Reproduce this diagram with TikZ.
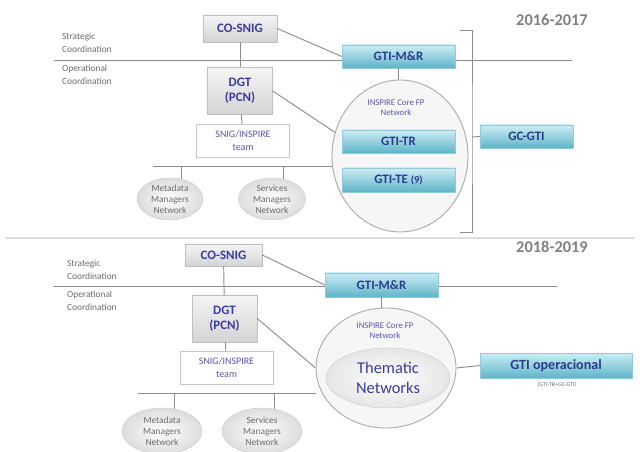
\documentclass[tikz,border=0pt]{standalone}
\usepackage{fontspec}
\setmainfont{Carlito}
\usetikzlibrary{shapes.geometric}

\definecolor{boxtext}{HTML}{3B3B9E}
\definecolor{gtitext}{HTML}{283C8C}
\definecolor{tealtop}{HTML}{CDEDF4}
\definecolor{tealbot}{HTML}{5FB4C9}
\definecolor{linegray}{HTML}{8C8C8C}
\definecolor{labelgray}{HTML}{6A6A6A}

\begin{document}
\begin{tikzpicture}[x=0.03cm, y=-0.03cm,
  sniggbox/.style={rectangle, draw=gray!50, top color=gray!8, bottom color=gray!34, text=boxtext, font=\bfseries\fontsize{11}{13}\selectfont, align=center, inner sep=1pt},
  gtibox/.style={rectangle, draw=tealbot!70, top color=tealtop, bottom color=tealbot, text=gtitext, font=\bfseries\fontsize{11}{13}\selectfont, inner sep=1pt},
  teambox/.style={rectangle, draw=gray!45, fill=white, text=boxtext!85, font=\fontsize{8.5}{11}\selectfont, align=center, minimum width=2.79cm, minimum height=0.99cm},
  netell/.style={ellipse, draw=gray!40, inner color=white, outer color=gray!27, text=labelgray, font=\fontsize{8}{9.4}\selectfont, align=center, inner sep=0pt},
  coreell/.style={ellipse, draw=gray!65, line width=0.8pt, fill=gray!7, inner sep=0pt},
  coretxt/.style={text=boxtext!85, font=\fontsize{7.5}{8.5}\selectfont, align=center},
  sidetxt/.style={anchor=west, text=labelgray, font=\fontsize{8}{11}\selectfont, align=left},
  yeartxt/.style={text=gray, font=\bfseries\fontsize{14}{16}\selectfont},
  link/.style={draw=linegray, line width=0.8pt}]
  \useasboundingbox (0,0) rectangle (640,452);

  \coordinate (sep1) at (5,238);
  \coordinate (sep2) at (635,238);
  \draw[gray!25, line width=1.5pt] (sep1) -- (sep2);

  \coordinate (sl1) at (54,60);
  \coordinate (sr1) at (572,60);
  \coordinate (bl1) at (153,166);
  \coordinate (bt) at (460,30);
  \coordinate (bm) at (472,137);
  \coordinate (bb) at (460,232);
  \draw[link] (sl1) -- (sr1);

  \node[yeartxt] (year1) at (552,20) {2016-2017};
  \node[sidetxt] (strat1) at (58,43) {Strategic\\Coordination};
  \node[sidetxt] (oper1) at (58,75) {Operational\\Coordination};
  \node[sniggbox, minimum width=2.22cm, minimum height=0.81cm] (cosnig1) at (240,28.5) {CO-SNIG};
  \node[sniggbox, minimum width=1.95cm, minimum height=1.41cm] (dgt1) at (240,91) {DGT\\(PCN)};
  \node[teambox] (team1) at (243,140.5) {SNIG/INSPIRE\\team};
  \node[netell, minimum width=1.98cm, minimum height=1.26cm] (meta1) at (170,199) {Metadata\\Managers\\Network};
  \node[netell, minimum width=2.01cm, minimum height=1.26cm] (serv1) at (272,199) {Services\\Managers\\Network};
  \node[coreell, minimum width=4.08cm, minimum height=4.56cm] (core1) at (400,156) {};
  \node[coretxt] (coretxt1) at (396,108) {INSPIRE Core FP\\Network};
  \node[gtibox, minimum width=3.39cm, minimum height=0.69cm] (gtimr1) at (398.5,56.5) {GTI-M\&R};
  \node[gtibox, minimum width=3.39cm, minimum height=0.69cm] (gtitr) at (398.5,141.5) {GTI-TR};
  \node[gtibox, minimum width=3.39cm, minimum height=0.72cm] (gtite) at (398.5,180) {GTI-TE {\fontsize{9}{10}\selectfont(9)}};
  \node[gtibox, minimum width=2.79cm, minimum height=0.69cm] (gcgti) at (526.5,136.5) {GC-GTI};

  \draw[link] (cosnig1) -- (dgt1);
  \draw[link] (dgt1) -- (team1);
  \draw[link] (cosnig1.east) -- (gtimr1.west);
  \draw[link] (dgt1.east) -- (core1.160);
  \draw[link] (gtimr1.south) -- (gtimr1.south |- core1.north);
  \draw[link] (bl1) -- (bl1 -| core1.west);
  \draw[link] (meta1.60 |- bl1) -- (meta1.60);
  \draw[link] (serv1.60 |- bl1) -- (serv1.60);
  \draw[link] (bt) -| (bm) |- (bb);
  \draw[link] (bm) -- (gcgti.west);

  \coordinate (sl2) at (53,286);
  \coordinate (sr2) at (557,286);
  \coordinate (bl2) at (138,393);
  \draw[link] (sl2) -- (sr2);

  \node[yeartxt] (year2) at (552,247) {2018-2019};
  \node[sidetxt] (strat2) at (63,270) {Strategic\\Coordination};
  \node[sidetxt] (oper2) at (63,301) {Operational\\Coordination};
  \node[sniggbox, minimum width=2.31cm, minimum height=0.66cm] (cosnig2) at (223.5,255) {CO-SNIG};
  \node[sniggbox, minimum width=1.95cm, minimum height=1.41cm] (dgt2) at (224.5,318.5) {DGT\\(PCN)};
  \node[teambox] (team2) at (226.5,367.5) {SNIG/INSPIRE\\team};
  \node[netell, minimum width=2.4cm, minimum height=1.38cm] (meta2) at (162,431) {Metadata\\Managers\\Network};
  \node[netell, minimum width=2.4cm, minimum height=1.38cm] (serv2) at (262,431) {Services\\Managers\\Network};
  \node[coreell, minimum width=4.2cm, minimum height=3.6cm] (core2) at (386,368) {};
  \node[coretxt] (coretxt2) at (385,331) {INSPIRE Core FP\\Network};
  \node[ellipse, draw=gray!40, inner color=white, outer color=gray!20, text=boxtext, font=\fontsize{14}{17}\selectfont, align=center, minimum width=3.72cm, minimum height=1.8cm] (thematic) at (388,378) {Thematic\\Networks};
  \node[gtibox, minimum width=3.39cm, minimum height=0.72cm] (gtimr2) at (381.5,285) {GTI-M\&R};
  \node[gtibox, minimum width=4.56cm, minimum height=0.75cm, font=\bfseries\fontsize{12}{14}\selectfont] (gtiop) at (556,365.5) {GTI operacional};
  \node[text=labelgray, font=\fontsize{5}{6}\selectfont] (gtinote) at (557,385) {(GTI-TR+GC-GTI)};

  \draw[link] (cosnig2) -- (dgt2);
  \draw[link] (dgt2) -- (team2);
  \draw[link] (cosnig2.east) -- (gtimr2.west);
  \draw[link] (dgt2.east) -- (core2.west);
  \draw[link] (gtimr2.south) -- (gtimr2.south |- core2.north);
  \draw[link] (bl2) -- (bl2 -| core2.west);
  \draw[link] (meta2.60 |- bl2) -- (meta2.60);
  \draw[link] (serv2.60 |- bl2) -- (serv2.60);
  \draw[link] (core2.east) -- (gtiop.west);
\end{tikzpicture}
\end{document}
